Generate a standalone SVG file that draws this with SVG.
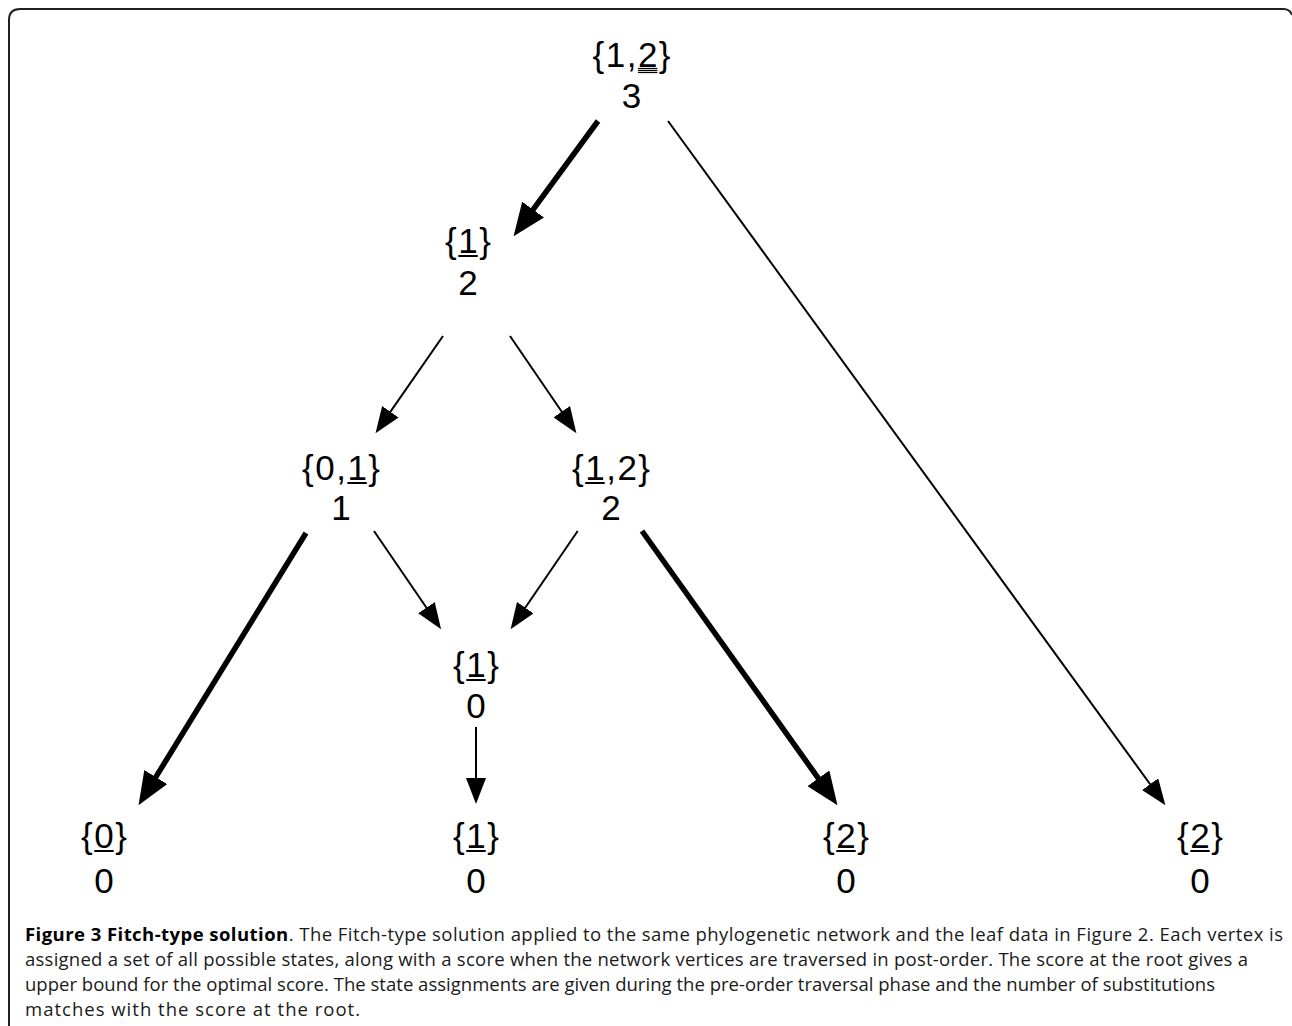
<svg xmlns="http://www.w3.org/2000/svg" width="1292" height="1026" viewBox="0 0 1292 1026">
<style>
  .set { font-family: "Liberation Sans", Arial, sans-serif; font-size: 35px; letter-spacing: 1.5px; fill: #000; }
  .score { font-family: "Liberation Sans", Arial, sans-serif; font-size: 35px; fill: #000; text-anchor: middle; }
  .ul { stroke: #000; stroke-width: 2; }
  .ul3 { stroke: #000; stroke-width: 1.2; }
  .thin { stroke: #000; stroke-width: 2; fill: none; marker-end: url(#ahThin); }
  .thick { stroke: #000; stroke-width: 5.5; fill: none; marker-end: url(#ahThick); }
  .cap { font-family: "Open Sans", "Noto Sans", sans-serif; font-size: 18.5px; fill: #1a1a1a; }
  .capb { font-weight: bold; fill: #000; }
</style>
<defs>
  <marker id="ahThin" markerUnits="userSpaceOnUse" viewBox="0 0 26 20" markerWidth="26" markerHeight="20" refX="1" refY="10" orient="auto">
    <path d="M0,0 L26,10 L0,20 z" fill="#000"/>
  </marker>
  <marker id="ahThick" markerUnits="userSpaceOnUse" viewBox="0 0 33 27" markerWidth="33" markerHeight="27" refX="1" refY="13.5" orient="auto">
    <path d="M0,0 L33,13.5 L0,27 z" fill="#000"/>
  </marker>
</defs>
<rect width="1292" height="1026" fill="#fff"/>
<path d="M9,1026 V20 Q9,9 20,9 H1283 Q1290,9 1292,15" fill="none" stroke="#231f20" stroke-width="2"/>

<g id="connectors">
  <line class="thick" x1="598" y1="121" x2="532.5" y2="210.4"/>
  <line class="thin" x1="668" y1="121" x2="1150.7" y2="785"/>
  <line class="thin" x1="443" y1="336" x2="389.8" y2="412.6"/>
  <line class="thin" x1="510" y1="336" x2="562.3" y2="412.5"/>
  <line class="thick" x1="306" y1="533" x2="155.3" y2="777.9"/>
  <line class="thin" x1="374" y1="531" x2="427" y2="608.5"/>
  <line class="thin" x1="577.7" y1="531" x2="524.7" y2="608.5"/>
  <line class="thick" x1="642" y1="531" x2="818.9" y2="779.1"/>
  <line class="thin" x1="476" y1="727" x2="476" y2="779"/>
</g>

<g id="root">
  <text class="set" x="592.5" y="67">{1,2}</text>
  <line class="ul3" x1="637.9" y1="68.5" x2="657.4" y2="68.5"/>
  <line class="ul3" x1="637.9" y1="70.5" x2="657.4" y2="70.5"/>
  <line class="ul3" x1="637.9" y1="72.5" x2="657.4" y2="72.5"/>
  <text class="score" x="631.5" y="108">3</text>
</g>
<g id="nodeA">
  <text class="set" x="445.1" y="253">{1}</text>
  <line class="ul" x1="458.3" y1="256" x2="477.8" y2="256"/>
  <text class="score" x="468" y="295">2</text>
</g>
<g id="nodeB">
  <text class="set" x="302" y="480">{0,1}</text>
  <line class="ul" x1="347.4" y1="483" x2="366.8" y2="483"/>
  <text class="score" x="341" y="520">1</text>
</g>
<g id="nodeC">
  <text class="set" x="572" y="480">{1,2}</text>
  <line class="ul" x1="585.2" y1="483" x2="604.7" y2="483"/>
  <text class="score" x="611" y="520">2</text>
</g>
<g id="nodeD">
  <text class="set" x="453.1" y="677">{1}</text>
  <line class="ul" x1="466.3" y1="680" x2="485.7" y2="680"/>
  <text class="score" x="476" y="718">0</text>
</g>
<g id="leaf1">
  <text class="set" x="81.1" y="848">{0}</text>
  <line class="ul" x1="94.3" y1="851" x2="113.7" y2="851"/>
  <text class="score" x="104" y="893">0</text>
</g>
<g id="leaf2">
  <text class="set" x="453.1" y="848">{1}</text>
  <line class="ul" x1="466.3" y1="851" x2="485.7" y2="851"/>
  <text class="score" x="476" y="893">0</text>
</g>
<g id="leaf3">
  <text class="set" x="823.1" y="848">{2}</text>
  <line class="ul" x1="836.3" y1="851" x2="855.7" y2="851"/>
  <text class="score" x="846" y="893">0</text>
</g>
<g id="leaf4">
  <text class="set" x="1177.1" y="848">{2}</text>
  <line class="ul" x1="1190.3" y1="851" x2="1209.7" y2="851"/>
  <text class="score" x="1200" y="893">0</text>
</g>

<g id="caption">
  <text class="cap" x="25" y="941" textLength="1258" lengthAdjust="spacing"><tspan class="capb">Figure 3 Fitch-type solution</tspan>. The Fitch-type solution applied to the same phylogenetic network and the leaf data in Figure 2. Each vertex is</text>
  <text class="cap" x="25" y="966" textLength="1223" lengthAdjust="spacing">assigned a set of all possible states, along with a score when the network vertices are traversed in post-order. The score at the root gives a</text>
  <text class="cap" x="25" y="991" textLength="1190" lengthAdjust="spacing">upper bound for the optimal score. The state assignments are given during the pre-order traversal phase and the number of substitutions</text>
  <text class="cap" x="25" y="1016" textLength="335" lengthAdjust="spacing">matches with the score at the root.</text>
</g>
</svg>
